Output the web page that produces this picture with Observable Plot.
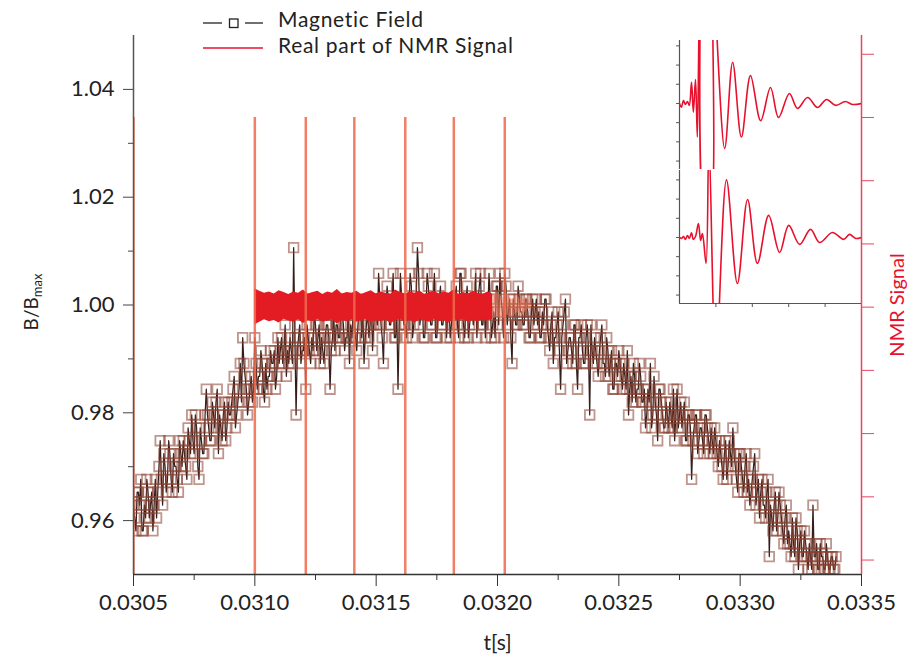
<!DOCTYPE html>
<html><head><meta charset="utf-8">
<script src="https://cdn.jsdelivr.net/npm/d3@7"></script>
<script src="https://cdn.jsdelivr.net/npm/@observablehq/plot@0.6"></script>
<style>
body{margin:0;background:#fff;}
#wrap{position:relative;width:915px;height:656px;font-family:Lato,sans-serif;}
#wrap svg{position:absolute;overflow:visible;}
</style></head><body><div id="wrap"></div>
<script>
// ---------------- data ----------------
// Magnetic field: uniformly sampled, quantised digitiser levels
const fieldStart = 0.03050;      // s
const fieldInterval = 0.00001;   // s between samples of one pass
const fieldOffset = 0.000005;    // s, second (interleaved) pass
const fieldLevelBase = 0.95093;  // B/Bmax of level 0
const fieldLevelStep = 0.002389; // B/Bmax per level
const fieldLevels = [
 5,3,6,7,3,4,6,5,3,7, 6,10,5,8,7,9,6,8,7,10, 8,9,7,10,12,9,11,7,10,9,
 14,11,10,12,13,9,11,12,10,13, 12,14,11,13,16,18,15,12,14,13, 18,14,15,16,13,14,15,16,17,15,
 16,18,17,15,16,17,25,12,18,16, 17,14,18,16,17,19,18,16,17,18, 19,14,18,17,19,18,20,17,18,16,
 18,19,17,20,18,16,19,18,21,19, 20,23,19,16,20,21,19,23,18,14, 23,20,19,21,23,18,20,25,19,21,
 18,23,20,19,23,18,21,19,20,18, 21,19,20,22,18,23,19,21,18,20, 19,23,21,23,19,18,20,21,19,18,
 22,23,20,23,19,21,16,20,19,21, 20,19,21,18,20,19,21,20,18,19, 21,18,19,16,18,20,14,19,21,17,
 18,16,19,14,18,17,16,19,12,17, 18,16,17,19,16,18,15,17,14,16, 17,15,16,14,12,15,16,13,14,15,
 13,11,14,16,12,13,10,14,12,11, 12,13,11,10,14,12,11,13,10,12, 7,11,12,10,11,9,12,10,11,9,
 10,8,9,7,10,8,9,11,8,6, 9,7,8,6,5,7,9,6,4,7, 5,6,1,4,5,3,6,4,2,5,
 3,1,2,4,0,3,1,2,0,1, 5,1,0,2,1,0,1,0,1,0
];
const fieldLevelsMid = [
 4,6,5,3,5,7,4,6,5,4, 8,7,9,6,10,7,9,8,6,9, 10,8,11,9,10,12,8,11,9,12,
 12,10,13,11,14,12,10,13,11,12, 13,15,12,14,13,16,14,13,15,14, 16,15,17,14,16,15,17,16,14,18,
 17,16,19,17,18,16,18,17,19,17, 18,19,17,18,20,17,19,18,16,19, 18,17,20,19,18,21,19,18,20,19,
 20,18,19,21,20,18,20,19,17,20, 19,21,18,20,22,19,21,18,20,19, 21,19,18,20,22,19,21,23,20,18,
 20,22,19,21,18,20,22,19,21,20, 18,20,21,19,23,20,18,22,19,21, 20,18,22,19,21,20,23,18,20,22,
 19,21,18,22,20,18,21,19,22,20, 19,21,20,18,21,20,19,18,20,21, 19,17,20,18,19,17,18,20,16,18,
 17,19,16,18,19,16,18,17,19,16, 17,15,18,16,15,17,16,14,16,15, 16,14,15,17,14,13,15,14,16,13,
 14,12,13,11,15,12,14,13,11,13, 11,12,14,12,11,13,12,10,12,11, 10,12,9,11,10,12,11,9,10,11,
 9,10,8,9,7,10,8,9,7,9, 8,6,9,7,6,8,5,7,6,5, 4,7,5,3,6,4,5,3,4,2,
 2,4,1,3,2,1,3,1,2,0, 1,2,0,1,0,2,0,1,0,1
];

// NMR signal (right axis, arbitrary units) and its mapping onto the B/Bmax axis
const nmrZeroB = 0.9996;
const nmrUnitB = 0.01173;
const nmrTicks = [-4,-3,-2,-1,0,1,2,3,4];
const pulseTimes = [0.03050, 0.03100, 0.03121, 0.03141, 0.03162, 0.03182, 0.03203];
const pulseTop = 3;
const pulseBottom = -5;
const bandStart = 0.03100, bandInterval = 0.00002;
const bandHi = [0.29,0.25,0.22,0.24,0.21,0.26,0.23,0.2,0.24,0.22, 0.27,0.21,0.23,0.25,0.2,0.24,0.22,0.28,0.21,0.23,
  0.22,0.25,0.2,0.23,0.26,0.21,0.24,0.22,0.2,0.27, 0.23,0.21,0.24,0.22,0.26,0.2,0.23,0.25,0.21,0.24,
  0.22,0.27,0.2,0.23,0.21,0.25,0.22,0.2,0.24,0.21];
const bandLo = [-0.28,-0.24,-0.2,-0.23,-0.21,-0.25,-0.19,-0.22,-0.24,-0.2, -0.26,-0.21,-0.23,-0.19,-0.24,-0.22,-0.2,-0.27,-0.21,-0.23,
  -0.2,-0.24,-0.22,-0.19,-0.25,-0.21,-0.23,-0.2,-0.26,-0.22, -0.19,-0.23,-0.21,-0.25,-0.2,-0.22,-0.24,-0.19,-0.23,-0.21,
  -0.25,-0.2,-0.22,-0.19,-0.24,-0.21,-0.23,-0.2,-0.22,-0.19];
const tailStart = 0.03198, tailInterval = 0.00002;
const tailHi = [0.2,0.24,0.15,0.22,0.12,0.2,0.1,0.16,0.05];
const tailLo = [-0.2,-0.15,-0.22,-0.12,-0.18,-0.08,-0.15,-0.05,-0.02];

// axes
const xMajorTicks = [0.0305,0.0310,0.0315,0.0320,0.0325,0.0330,0.0335];
const xMinorTicks = [0.03075,0.03125,0.03175,0.03225,0.03275,0.03325];
const yMajorTicks = [0.96,0.98,1.00,1.02,1.04];
const yMinorTicks = [0.97,0.99,1.01,1.03];

// inset: two NMR echo traces (arbitrary units)
const insetTopT = [0,0.05,0.11,0.16,0.22,0.27,0.33,0.38,0.44,0.49,0.56,0.71,0.82,0.93,1.24,1.46,1.70,1.95,2.23,2.50,2.72,3.02,3.24,3.52,3.79,4.04,4.29,4.56,4.75,5.0];
const insetTopV = [0,-0.2,0.15,-0.05,0.1,-0.1,1.1,-0.45,1.25,-1.75,6,-6,-6,6,-2.35,2.15,-1.75,1.45,-0.9,0.83,-0.73,0.52,-0.26,0.31,-0.21,0.21,-0.1,0.1,-0.05,0];
const insetBottomT = [0,0.05,0.11,0.16,0.22,0.27,0.33,0.38,0.44,0.52,0.58,0.63,0.73,0.81,1.00,1.29,1.59,1.87,2.14,2.45,2.75,3.00,3.30,3.60,3.85,4.20,4.51,4.67,4.84,5.0];
const insetBottomV = [0,-0.05,0.05,-0.1,0.1,-0.05,0.25,-0.1,0.05,0.73,-0.15,0.2,-1.35,5,-6.5,3.0,-2.4,1.98,-1.35,1.15,-0.78,0.63,-0.36,0.42,-0.26,0.26,-0.1,0.16,-0.05,0];
const insetTicksY = [-3,-2,-1,0,1,2,3];
const insetTicksX = [1,2,3,4];
const insetTopDomain = [-3.44, 3.28];
const insetBottomDomain = [-3.44, 3.49];

// ---------------- build ----------------
const toB = s => nmrZeroB + s * nmrUnitB;
const levelToB = k => fieldLevelBase + k * fieldLevelStep;
const field = [];
fieldLevels.forEach((k, i) => {
  const t = fieldStart + i * fieldInterval;
  field.push({t, B: levelToB(k)});
  field.push({t: t + fieldOffset, B: levelToB(fieldLevelsMid[i])});
});
const band = bandHi.map((h, i) => ({t: bandStart + i * bandInterval, hi: toB(h), lo: toB(bandLo[i])}));
const tail = tailHi.map((h, i) => ({t: tailStart + i * tailInterval, hi: toB(h), lo: toB(tailLo[i])}));
const pulses = pulseTimes.map(t => ({t, y1: toB(pulseTop), y2: toB(pulseBottom)}));
const blank = () => "";
const RED = "#e8112d";

const chart = Plot.plot({
  width: 915, height: 656,
  marginLeft: 133, marginRight: 54, marginTop: 35, marginBottom: 82,
  style: {fontFamily: "Lato, sans-serif", background: "transparent", overflow: "visible"},
  x: {domain: [0.0305, 0.0335], label: null},
  y: {domain: [0.95, 1.05], label: null},
  marks: [
    Plot.line(field, {x: "t", y: "B", stroke: "#1e0602", strokeWidth: 1.25, strokeOpacity: 0.9, clip: true}),
    Plot.dot(field, {x: "t", y: "B", symbol: "square", r: 5.4, fill: "none", stroke: "#8a3f30", strokeWidth: 1.8, strokeOpacity: 0.55, clip: true}),
    Plot.areaY(band, {x: "t", y1: "lo", y2: "hi", fill: "#e31b23", clip: true}),
    Plot.areaY(tail, {x: "t", y1: "lo", y2: "hi", fill: "#f07a5c", fillOpacity: 0.55, clip: true}),
    Plot.ruleX(pulses, {x: "t", y1: "y1", y2: "y2", stroke: "#f0694a", strokeWidth: 2.5, strokeOpacity: 0.85, clip: true}),
    Plot.ruleX([0.0305], {stroke: "#555", strokeWidth: 1.5}),
    Plot.ruleY([0.95], {stroke: "#333", strokeWidth: 1.5}),
    Plot.ruleX([0.0335], {stroke: "#e94560", strokeWidth: 1.5}),
    Plot.axisX({ticks: xMajorTicks, tickSize: 12, tickPadding: 8, tickFormat: d3.format(".4f"), fontSize: 22, stroke: "#333", fill: "#222", label: null}),
    Plot.axisX({ticks: xMinorTicks, tickSize: 6, tickFormat: blank, stroke: "#333", label: null}),
    Plot.axisY({ticks: yMajorTicks, tickSize: 10, tickPadding: 9, tickFormat: d3.format(".2f"), fontSize: 22, stroke: "#444", fill: "#222", label: null}),
    Plot.axisY({ticks: yMinorTicks, tickSize: 5, tickFormat: blank, stroke: "#444", label: null}),
    Plot.axisY({anchor: "right", ticks: nmrTicks.map(toB), tickSize: 12, tickFormat: blank, stroke: "#e94560", label: null}),
    Plot.text(["NMR Signal"], {text: d => d, frameAnchor: "right", dx: 42, rotate: -90, textAnchor: "middle", lineAnchor: "bottom", fontSize: 20, fill: RED}),
    Plot.text(["t[s]"], {text: d => d, frameAnchor: "bottom", dy: 69, textAnchor: "middle", lineAnchor: "middle", fontSize: 21, fill: "#222"})
  ]
});
chart.style.left = "0px"; chart.style.top = "0px";
document.getElementById("wrap").appendChild(chart);

// legend and y-axis title (real text, appended to the chart svg)
const svg = d3.select(chart);
const lg = svg.append("g").attr("font-family", "Lato, sans-serif").attr("font-size", 21)
  .attr("letter-spacing", "0.7px").attr("fill", "#222").attr("text-anchor", "start");
lg.append("line").attr("x1", 203).attr("x2", 222).attr("y1", 23).attr("y2", 23).attr("stroke", "#222").attr("stroke-width", 1.3);
lg.append("rect").attr("x", 229.5).attr("y", 19).attr("width", 8.5).attr("height", 8.5).attr("fill", "none").attr("stroke", "#222").attr("stroke-width", 1.3);
lg.append("line").attr("x1", 245).attr("x2", 263).attr("y1", 23).attr("y2", 23).attr("stroke", "#222").attr("stroke-width", 1.3);
lg.append("text").attr("x", 278).attr("y", 27).text("Magnetic Field");
lg.append("line").attr("x1", 203).attr("x2", 263).attr("y1", 48).attr("y2", 48).attr("stroke", RED).attr("stroke-width", 1.5);
lg.append("text").attr("x", 278).attr("y", 53).text("Real part of NMR Signal");
const yl = svg.append("text").attr("transform", "translate(38,302) rotate(-90)")
  .attr("text-anchor", "middle").attr("font-family", "Lato, sans-serif").attr("font-size", 19).attr("fill", "#222");
yl.append("tspan").text("B/B");
yl.append("tspan").attr("font-size", 13).attr("dy", 4).text("max");

// inset
const insetTop = Plot.plot({
  width: 186, height: 129, marginLeft: 4, marginRight: 0, marginTop: 0, marginBottom: 0,
  style: {background: "transparent", overflow: "visible"},
  x: {domain: [0, 5], axis: null},
  y: {domain: insetTopDomain, label: null},
  marks: [
    Plot.ruleX([0], {stroke: "#555", strokeWidth: 1.2}),
    Plot.axisY({ticks: insetTicksY, tickSize: 3, tickFormat: blank, stroke: "#555", label: null}),
    Plot.line(insetTopT.map((t, i) => ({t, v: insetTopV[i]})), {x: "t", y: "v", stroke: RED, strokeWidth: 1.6, curve: "catmull-rom", clip: true})
  ]
});
insetTop.style.left = "675px"; insetTop.style.top = "40px";
document.getElementById("wrap").appendChild(insetTop);

const insetBottom = Plot.plot({
  width: 186, height: 138, marginLeft: 4, marginRight: 0, marginTop: 0, marginBottom: 5,
  style: {background: "transparent", overflow: "visible"},
  x: {domain: [0, 5], label: null},
  y: {domain: insetBottomDomain, label: null},
  marks: [
    Plot.ruleX([0], {stroke: "#555", strokeWidth: 1.2}),
    Plot.ruleY([insetBottomDomain[0]], {stroke: "#555", strokeWidth: 1.2}),
    Plot.axisY({ticks: insetTicksY, tickSize: 3, tickFormat: blank, stroke: "#555", label: null}),
    Plot.axisX({ticks: insetTicksX, tickSize: 4, tickFormat: blank, stroke: "#555", label: null}),
    Plot.line(insetBottomT.map((t, i) => ({t, v: insetBottomV[i]})), {x: "t", y: "v", stroke: RED, strokeWidth: 1.6, curve: "catmull-rom", clip: true})
  ]
});
insetBottom.style.left = "675px"; insetBottom.style.top = "170px";
document.getElementById("wrap").appendChild(insetBottom);
</script></body></html>
